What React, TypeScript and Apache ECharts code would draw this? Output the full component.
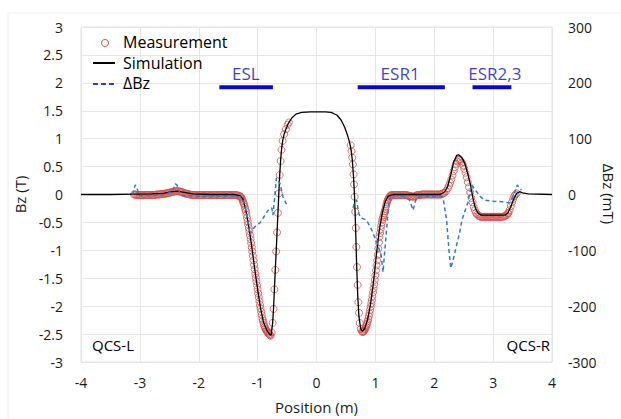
import { useEffect, useRef } from "react";
import * as echarts from "echarts";

// Simulation Bz (T) vs position (m)
const simulation: [number, number][] = [
  [-4, 0], [-3.5, 0], [-3.1, 0.005], [-2.8, 0.01], [-2.6, 0.02], [-2.45, 0.05], [-2.35, 0.06],
  [-2.25, 0.04], [-2.1, 0.01], [-1.8, 0], [-1.4, 0], [-1.3, -0.02], [-1.25, -0.08], [-1.2, -0.28],
  [-1.15, -0.58], [-1.1, -0.93], [-1.05, -1.33], [-1.0, -1.7], [-0.95, -2.04], [-0.9, -2.29],
  [-0.85, -2.42], [-0.8, -2.5], [-0.77, -2.52], [-0.745, -2.3], [-0.73, -2.05], [-0.715, -1.7],
  [-0.7, -1.35], [-0.685, -1.02], [-0.67, -0.68], [-0.655, -0.33], [-0.64, 0.02], [-0.625, 0.35],
  [-0.61, 0.6], [-0.595, 0.8], [-0.575, 0.96], [-0.55, 1.08], [-0.52, 1.17], [-0.48, 1.27],
  [-0.42, 1.37], [-0.35, 1.44], [-0.25, 1.47], [-0.1, 1.48], [0, 1.48], [0.15, 1.48], [0.25, 1.47],
  [0.35, 1.42], [0.42, 1.33], [0.48, 1.2], [0.53, 1.05], [0.565, 0.92], [0.59, 0.78], [0.61, 0.6],
  [0.63, 0.3], [0.645, -0.02], [0.66, -0.45], [0.68, -1.2], [0.7, -1.8], [0.72, -2.18],
  [0.75, -2.4], [0.78, -2.45], [0.82, -2.4], [0.87, -2.23], [0.92, -1.95], [0.97, -1.55],
  [1.02, -1.05], [1.07, -0.62], [1.12, -0.32], [1.17, -0.12], [1.22, -0.03], [1.3, 0], [1.6, 0],
  [2.1, 0], [2.18, 0.05], [2.23, 0.15], [2.28, 0.35], [2.33, 0.58], [2.38, 0.7], [2.42, 0.71],
  [2.47, 0.66], [2.52, 0.55], [2.57, 0.37], [2.62, 0.15], [2.66, -0.08], [2.7, -0.25],
  [2.75, -0.34], [2.8, -0.37], [3.0, -0.37], [3.2, -0.37], [3.25, -0.33], [3.3, -0.22],
  [3.35, -0.08], [3.4, 0.02], [3.45, 0.05], [3.5, 0.03], [3.6, 0.01], [4, 0],
];

// Measured Bz (T)
const measurement: [number, number][] = [
  // left flat stretch
  [-3.10, 0.00], [-3.08, 0.00], [-3.06, -0.01], [-3.04, -0.01], [-3.02, -0.01], [-3.00, -0.01],
  [-2.98, -0.01], [-2.96, -0.01], [-2.94, -0.01], [-2.92, -0.01], [-2.90, -0.01], [-2.88, -0.01],
  [-2.86, -0.01], [-2.84, -0.01], [-2.82, -0.01], [-2.80, -0.01], [-2.78, -0.01], [-2.76, -0.01],
  [-2.74, -0.01], [-2.72, 0.00], [-2.70, 0.00], [-2.68, 0.00], [-2.66, 0.00], [-2.64, 0.01],
  [-2.62, 0.01], [-2.60, 0.01], [-2.58, 0.01], [-2.56, 0.02], [-2.54, 0.02], [-2.52, 0.03],
  [-2.50, 0.03], [-2.48, 0.04], [-2.46, 0.04], [-2.44, 0.05], [-2.42, 0.05], [-2.40, 0.06],
  [-2.38, 0.06], [-2.36, 0.06], [-2.34, 0.06], [-2.32, 0.05], [-2.30, 0.05], [-2.28, 0.04],
  [-2.26, 0.03], [-2.24, 0.02], [-2.22, 0.02], [-2.20, 0.01], [-2.18, 0.01], [-2.16, 0.00],
  [-2.14, 0.00], [-2.12, -0.01], [-2.10, -0.01], [-2.08, -0.01], [-2.06, -0.01], [-2.04, -0.01],
  [-2.02, -0.01], [-2.00, -0.01], [-1.98, -0.01], [-1.96, -0.01], [-1.94, -0.01], [-1.92, -0.01],
  [-1.90, -0.01], [-1.88, -0.01], [-1.86, -0.01], [-1.84, -0.01], [-1.82, -0.01], [-1.80, -0.01],
  [-1.78, -0.01], [-1.76, -0.01], [-1.74, -0.01], [-1.72, -0.01], [-1.70, -0.01], [-1.68, -0.01],
  [-1.66, -0.01], [-1.64, -0.01], [-1.62, -0.01], [-1.60, -0.01], [-1.58, -0.01], [-1.56, -0.01],
  [-1.54, -0.01], [-1.52, -0.01], [-1.50, -0.01], [-1.48, -0.01], [-1.46, -0.01], [-1.44, -0.01],
  [-1.42, -0.01], [-1.40, -0.01], [-1.38, -0.01], [-1.36, -0.01], [-1.34, -0.02], [-1.32, -0.02],
  [-1.30, -0.03],
  // ESL fall
  [-1.29, -0.04], [-1.28, -0.05], [-1.27, -0.07], [-1.26, -0.09], [-1.25, -0.12], [-1.24, -0.15],
  [-1.23, -0.18], [-1.22, -0.22], [-1.21, -0.26], [-1.20, -0.30], [-1.19, -0.36], [-1.18, -0.42],
  [-1.17, -0.48], [-1.16, -0.54], [-1.15, -0.60], [-1.14, -0.66], [-1.13, -0.73], [-1.12, -0.80],
  [-1.11, -0.87], [-1.10, -0.95], [-1.09, -1.02], [-1.08, -1.10], [-1.07, -1.18], [-1.06, -1.26],
  [-1.05, -1.34], [-1.04, -1.42], [-1.03, -1.49], [-1.02, -1.56], [-1.01, -1.63], [-1.00, -1.70],
  [-0.99, -1.77], [-0.98, -1.84], [-0.97, -1.91], [-0.96, -1.98], [-0.95, -2.04], [-0.94, -2.10],
  [-0.93, -2.16], [-0.92, -2.22], [-0.91, -2.26], [-0.90, -2.30], [-0.89, -2.34], [-0.88, -2.37],
  [-0.87, -2.40], [-0.86, -2.42], [-0.85, -2.44], [-0.84, -2.45], [-0.83, -2.47], [-0.82, -2.48],
  [-0.81, -2.50], [-0.80, -2.51], [-0.79, -2.52], [-0.78, -2.53],
  // ESL rise
  [-0.76, -2.47], [-0.745, -2.30], [-0.73, -2.05], [-0.715, -1.70], [-0.70, -1.35], [-0.685, -1.02],
  [-0.67, -0.68], [-0.655, -0.33], [-0.64, 0.02], [-0.625, 0.35], [-0.61, 0.60], [-0.595, 0.80],
  [-0.575, 0.96], [-0.55, 1.08], [-0.52, 1.17], [-0.49, 1.25], [-0.47, 1.29],
  // ESR1 fall
  [0.58, 0.88], [0.595, 0.78], [0.607, 0.66], [0.618, 0.54], [0.629, 0.36], [0.638, 0.18],
  [0.648, -0.04], [0.658, -0.31], [0.667, -0.60], [0.677, -0.94], [0.688, -1.30], [0.699, -1.62],
  [0.711, -1.93], [0.722, -2.12], [0.734, -2.30], [0.75, -2.41],
  // ESR1 bottom and rise
  [0.77, -2.45], [0.78, -2.46], [0.79, -2.46], [0.80, -2.45], [0.81, -2.44], [0.82, -2.42],
  [0.83, -2.40], [0.84, -2.37], [0.85, -2.34], [0.86, -2.31], [0.87, -2.27], [0.88, -2.23],
  [0.89, -2.18], [0.90, -2.13], [0.91, -2.07], [0.92, -2.01], [0.93, -1.95], [0.94, -1.89],
  [0.95, -1.82], [0.96, -1.75], [0.97, -1.68], [0.98, -1.61], [0.99, -1.53], [1.00, -1.45],
  [1.01, -1.36], [1.02, -1.27], [1.03, -1.18], [1.04, -1.08], [1.05, -0.97], [1.06, -0.86],
  [1.07, -0.76], [1.08, -0.69], [1.09, -0.62], [1.10, -0.56], [1.11, -0.50], [1.12, -0.45],
  [1.13, -0.41], [1.14, -0.37], [1.15, -0.34], [1.16, -0.30], [1.17, -0.26], [1.18, -0.21],
  [1.19, -0.17], [1.20, -0.13], [1.21, -0.10], [1.22, -0.08], [1.23, -0.06], [1.24, -0.04],
  [1.25, -0.03], [1.26, -0.02], [1.27, -0.01],
  // middle flat stretch
  [1.29, -0.01], [1.31, -0.01], [1.33, -0.01], [1.35, -0.01], [1.37, -0.01], [1.39, -0.01],
  [1.41, -0.01], [1.43, -0.01], [1.45, -0.01], [1.47, -0.01], [1.49, -0.01], [1.51, -0.01],
  [1.53, -0.01], [1.55, -0.02], [1.57, -0.02], [1.59, -0.03], [1.61, -0.03], [1.63, -0.04],
  [1.65, -0.04], [1.67, -0.03], [1.69, -0.02], [1.71, -0.01], [1.73, -0.01], [1.75, -0.01],
  [1.77, -0.01], [1.79, 0.00], [1.81, 0.00], [1.83, 0.00], [1.85, 0.00], [1.87, 0.00],
  [1.89, 0.00], [1.91, 0.00], [1.93, 0.00], [1.95, 0.00], [1.97, 0.00], [1.99, 0.00],
  [2.01, 0.00], [2.03, 0.00], [2.05, 0.00], [2.07, 0.00], [2.09, 0.00], [2.11, 0.00],
  [2.13, 0.01], [2.15, 0.02],
  // ESR2,3
  [2.17, 0.03], [2.20, 0.06], [2.23, 0.11], [2.25, 0.16], [2.27, 0.21], [2.29, 0.27],
  [2.31, 0.34], [2.33, 0.42], [2.35, 0.49], [2.37, 0.55], [2.39, 0.59], [2.41, 0.62],
  [2.43, 0.62], [2.45, 0.60], [2.47, 0.57], [2.49, 0.52], [2.51, 0.46], [2.53, 0.39],
  [2.55, 0.31], [2.57, 0.22], [2.59, 0.13], [2.61, 0.04], [2.63, -0.06], [2.65, -0.14],
  [2.67, -0.22], [2.69, -0.28], [2.71, -0.33], [2.73, -0.36], [2.75, -0.38], [2.77, -0.39],
  [2.79, -0.40], [2.81, -0.40], [2.83, -0.40], [2.85, -0.40], [2.87, -0.40], [2.89, -0.40],
  [2.91, -0.40], [2.93, -0.40], [2.95, -0.40], [2.97, -0.40], [2.99, -0.40], [3.01, -0.40],
  [3.03, -0.40], [3.05, -0.40], [3.07, -0.40], [3.09, -0.40], [3.11, -0.40], [3.13, -0.40],
  [3.15, -0.40], [3.17, -0.40], [3.19, -0.39], [3.21, -0.38], [3.23, -0.37], [3.25, -0.34],
  [3.26, -0.33], [3.28, -0.28], [3.30, -0.21], [3.32, -0.14], [3.34, -0.08], [3.36, -0.03],
  [3.38, 0.00], [3.40, 0.02],
];

// ΔBz (mT), two measured stretches
const deltaBzESL: [number, number][] = [
  [-3.12, 0], [-3.10, 10], [-3.08, 17], [-3.05, 12], [-3.02, 0], [-3.0, -2], [-2.8, -2],
  [-2.6, -1], [-2.45, 5], [-2.40, 19], [-2.37, 17], [-2.33, 5], [-2.3, -2], [-2.0, -3],
  [-1.6, -3], [-1.3, -4], [-1.25, -10], [-1.2, -28], [-1.16, -50], [-1.13, -72], [-1.1, -65],
  [-1.05, -58], [-0.96, -51], [-0.88, -38], [-0.82, -28], [-0.78, -26], [-0.76, -24],
  [-0.74, -37], [-0.71, -5], [-0.68, 30], [-0.65, 25], [-0.62, 20], [-0.57, -4], [-0.49, -22],
];
const deltaBzESR: [number, number][] = [
  [0.62, -24], [0.65, -13], [0.68, -10], [0.72, -35], [0.76, -42], [0.85, -46], [0.94, -64],
  [1.04, -90], [1.10, -110], [1.13, -139], [1.16, -100], [1.19, -64], [1.22, -25], [1.25, -4],
  [1.35, -2], [1.5, -4], [1.58, -10], [1.64, -28], [1.68, -12], [1.72, -4], [1.9, -3], [2.1, -3],
  [2.15, -6], [2.21, -46], [2.25, -100], [2.28, -132], [2.32, -118], [2.38, -90], [2.43, -69],
  [2.47, -46], [2.52, -30], [2.57, -15], [2.62, 10], [2.64, 17], [2.68, 10], [2.72, 5],
  [2.78, -3], [2.85, -10], [3.0, -12], [3.15, -13], [3.28, -15], [3.33, -5], [3.37, 5],
  [3.41, 17], [3.45, 12], [3.48, 8],
];

// Region annotations
const regionNames = ["ESL", "ESR1", "ESR2,3"];
const regionStart = [-1.65, 0.70, 2.65];
const regionEnd = [-0.74, 2.18, 3.31];
const regionLabelX = [-1.2, 1.42, 3.03];
const regionLevel = 1.92;
const regionLabelLevel = 2.17;

const FONT = "'Open Sans', 'Noto Sans', sans-serif";
const BLUE_DARK = "#0a0ac4";
const DASH_BLUE = "#2e7bd0";
const MEAS_RED = "#d2504c";
const TEXT = "#1a1a1a";

export default function App() {
  const ref = useRef<HTMLDivElement>(null);
  useEffect(() => {
    if (!ref.current) return;
    const chart = echarts.init(ref.current, undefined, { renderer: "svg" });
    const regionSeries = regionNames.map((n, i) => ({
      type: "line",
      name: "region-" + n,
      silent: true,
      showSymbol: false,
      symbol: "none",
      data: [[regionStart[i], regionLevel], [regionEnd[i], regionLevel]],
      lineStyle: { color: BLUE_DARK, width: 4 },
      z: 5,
    }));
    chart.setOption({
      animation: false,
      backgroundColor: "#ffffff",
      textStyle: { fontFamily: FONT },
      grid: {
        left: 81, right: 69, top: 27, bottom: 57,
        outerBoundsMode: "none",
        containLabel: false,
        show: true, borderColor: "#e3e3e3", borderWidth: 1,
      },
      xAxis: {
        type: "value",
        min: -4,
        max: 4,
        interval: 1,
        axisLine: { show: false },
        axisTick: { show: false },
        splitLine: { show: true, lineStyle: { color: "#e6e6e6", width: 1 } },
        axisLabel: { color: TEXT, fontSize: 14, margin: 13, fontFamily: FONT },
        name: "Position (m)",
        nameLocation: "middle",
        nameGap: 37,
        nameTextStyle: { color: TEXT, fontSize: 15, fontFamily: FONT },
      },
      yAxis: [
        {
          type: "value",
          min: -3,
          max: 3,
          interval: 0.5,
          axisLine: { show: false },
          axisTick: { show: false },
          splitLine: { show: true, lineStyle: { color: "#e6e6e6", width: 1 } },
          axisLabel: { color: TEXT, fontSize: 14, margin: 18, fontFamily: FONT },
          name: "Bz (T)",
          nameLocation: "middle",
          nameRotate: 90,
          nameGap: 43,
          nameTextStyle: { color: TEXT, fontSize: 15, fontFamily: FONT },
        },
        {
          type: "value",
          min: -300,
          max: 300,
          interval: 100,
          position: "right",
          axisLine: { show: false },
          axisTick: { show: false },
          splitLine: { show: false },
          axisLabel: { color: TEXT, fontSize: 14, margin: 16, fontFamily: FONT },
        },
      ],
      series: [
        {
          type: "scatter",
          name: "Measurement",
          data: measurement,
          symbol: "circle",
          symbolSize: 7,
          itemStyle: { color: "rgba(255,255,255,0)", borderColor: MEAS_RED, borderWidth: 1, opacity: 0.8 },
          z: 2,
        },
        {
          type: "line",
          name: "Simulation",
          data: simulation,
          showSymbol: false,
          symbol: "none",
          lineStyle: { color: "#000000", width: 1.3 },
          z: 3,
        },
        {
          type: "line",
          name: "ΔBz",
          yAxisIndex: 1,
          data: deltaBzESL,
          showSymbol: false,
          symbol: "none",
          lineStyle: { color: DASH_BLUE, width: 1.5, type: [4, 3] },
          z: 4,
        },
        {
          type: "line",
          name: "ΔBz",
          yAxisIndex: 1,
          data: deltaBzESR,
          showSymbol: false,
          symbol: "none",
          lineStyle: { color: DASH_BLUE, width: 1.5, type: [4, 3] },
          z: 4,
        },
        ...regionSeries,
        {
          type: "scatter",
          name: "region-labels",
          silent: true,
          symbol: "circle",
          symbolSize: 1,
          itemStyle: { color: "rgba(0,0,0,0)" },
          data: regionNames.map((n, i) => ({ name: n, value: [regionLabelX[i], regionLabelLevel] })),
          label: {
            show: true,
            position: "inside",
            formatter: "{b}",
            color: BLUE_DARK,
            fontSize: 17,
            fontFamily: FONT,
            textBorderWidth: 0,
          },
          z: 6,
        },
      ],
      graphic: [
        {
          type: "polyline",
          silent: true,
          z: 100,
          shape: { points: [[8, 419], [8, 13], [621, 13]] },
          style: { stroke: "#eeeeee", lineWidth: 1, fill: "none" },
        },
        {
          type: "text",
          z: 100,
          x: 609, y: 194,
          rotation: -Math.PI / 2,
          style: { text: "ΔBz (mT)", fill: TEXT, font: `15px ${FONT}`, align: "center", verticalAlign: "middle" },
        },
        {
          type: "circle",
          z: 100,
          shape: { cx: 105, cy: 43, r: 3.5 },
          style: { fill: "none", stroke: MEAS_RED, lineWidth: 1 },
        },
        {
          type: "text",
          z: 100,
          x: 123, y: 42,
          style: { text: "Measurement", fill: "#000", font: `16px ${FONT}`, verticalAlign: "middle" },
        },
        {
          type: "line",
          z: 100,
          shape: { x1: 93, y1: 63, x2: 115, y2: 63 },
          style: { stroke: "#000", lineWidth: 2 },
        },
        {
          type: "text",
          z: 100,
          x: 123, y: 63,
          style: { text: "Simulation", fill: "#000", font: `16px ${FONT}`, verticalAlign: "middle" },
        },
        {
          type: "line",
          z: 100,
          shape: { x1: 93, y1: 84, x2: 115, y2: 84 },
          style: { stroke: "#1f45d0", lineWidth: 2, lineDash: [5, 3] },
        },
        {
          type: "text",
          z: 100,
          x: 123, y: 83,
          style: { text: "ΔBz", fill: "#000", font: `16px ${FONT}`, verticalAlign: "middle" },
        },
        {
          type: "text",
          z: 100,
          x: 92, y: 345,
          style: { text: "QCS-L", fill: "#000", font: `15px ${FONT}`, verticalAlign: "middle" },
        },
        {
          type: "text",
          z: 100,
          x: 550, y: 345,
          style: { text: "QCS-R", fill: "#000", font: `15px ${FONT}`, verticalAlign: "middle", align: "right" },
        },
      ],
    });
    return () => chart.dispose();
  }, []);
  return (
    <div
      ref={ref}
      style={{ position: "fixed", left: 0, top: 0, width: 621, height: 419, background: "#fff" }}
    />
  );
}
